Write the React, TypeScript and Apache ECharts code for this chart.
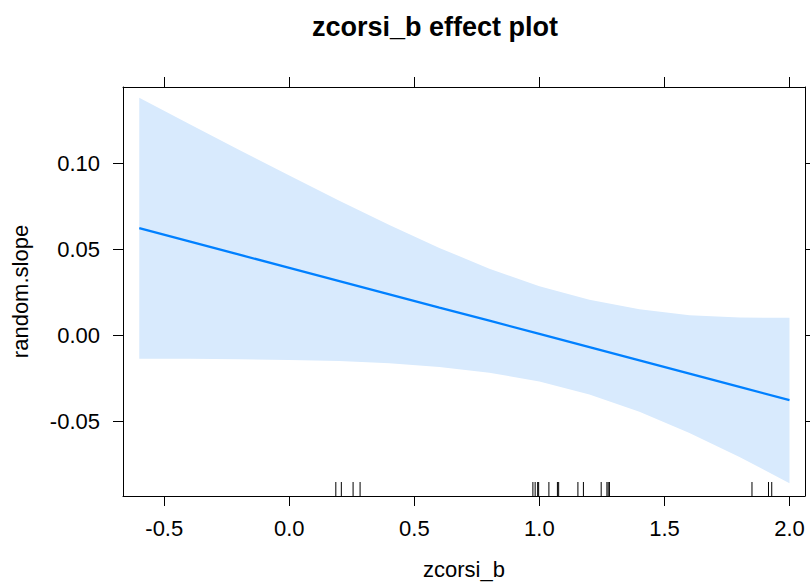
import React, { useEffect, useRef } from "react";
import * as echarts from "echarts";

const titleText = "zcorsi_b effect plot";
const xName = "zcorsi_b";
const yName = "random.slope";

// grid of x values where the fit and its confidence band were read
const bandX = [-0.6, -0.4, -0.2, 0, 0.2, 0.4, 0.6, 0.8, 1.0, 1.2, 1.4, 1.6, 1.8, 2.0];
const fitY = [0.0625, 0.0548, 0.0471, 0.0394, 0.0317, 0.024, 0.0163, 0.0087, 0.001, -0.0067, -0.0144, -0.0221, -0.0298, -0.0375];
const upperY = [0.1382, 0.123, 0.1079, 0.093, 0.0784, 0.0643, 0.051, 0.0389, 0.0287, 0.0208, 0.0153, 0.0119, 0.0105, 0.0104];
const lowerY = [-0.0134, -0.0135, -0.0137, -0.0141, -0.0148, -0.0161, -0.0183, -0.0216, -0.0266, -0.0342, -0.0443, -0.0566, -0.0705, -0.0858];

// rug (observed x values)
const rugX = [0.186, 0.208, 0.255, 0.283, 0.974, 0.983, 0.993, 0.997, 1.038, 1.072, 1.077, 1.154, 1.176, 1.247, 1.27, 1.275, 1.28, 1.85, 1.916, 1.929];

const xTicks = [-0.5, 0, 0.5, 1.0, 1.5, 2.0];
const yTicks = [-0.05, 0, 0.05, 0.1];
const xRange = [-0.665, 2.062];
const yRange = [-0.0932, 0.1445];

const FONT = "'Liberation Sans', Arial, Helvetica, sans-serif";
const LINE_COLOR = "#0080ff";
const BAND_COLOR = "#d8eafd";

export default function App() {
  const ref = useRef<HTMLDivElement>(null);

  useEffect(() => {
    if (!ref.current) return;
    const chart = echarts.init(ref.current, undefined, { renderer: "svg" });

    const axisLineStyle = { show: true, onZero: false, lineStyle: { color: "#000", width: 1 } };
    const tickStyle = (vals: number[]) => ({
      show: true,
      inside: false,
      length: 10,
      customValues: vals,
      lineStyle: { color: "#000", width: 1 },
    });

    const option: any = {
      animation: false,
      backgroundColor: "#fff",
      title: {
        text: titleText,
        left: 430,
        top: 8,
        textAlign: "center",
        textStyle: { fontFamily: FONT, fontSize: 27, fontWeight: "bold", color: "#000" },
      },
      grid: { left: 123, top: 87, width: 682, height: 412, containLabel: false },
      xAxis: [
        {
          type: "value",
          position: "bottom",
          min: xRange[0],
          max: xRange[1],
          name: xName,
          nameLocation: "middle",
          nameGap: 62,
          nameTextStyle: { fontFamily: FONT, fontSize: 22, color: "#000" },
          axisLine: axisLineStyle,
          axisTick: tickStyle(xTicks),
          axisLabel: {
            show: true,
            customValues: xTicks,
            margin: 21,
            fontFamily: FONT,
            fontSize: 22,
            color: "#000",
            formatter: (v: number) => v.toFixed(1),
          },
          splitLine: { show: false },
        },
        {
          type: "value",
          position: "top",
          min: xRange[0],
          max: xRange[1],
          axisLine: axisLineStyle,
          axisTick: tickStyle(xTicks),
          axisLabel: { show: false },
          splitLine: { show: false },
        },
      ],
      yAxis: [
        {
          type: "value",
          position: "left",
          min: yRange[0],
          max: yRange[1],
          name: yName,
          nameLocation: "middle",
          nameGap: 92,
          nameRotate: 90,
          nameTextStyle: { fontFamily: FONT, fontSize: 22, color: "#000" },
          axisLine: axisLineStyle,
          axisTick: tickStyle(yTicks),
          axisLabel: {
            show: true,
            customValues: yTicks,
            margin: 23,
            fontFamily: FONT,
            fontSize: 22,
            color: "#000",
            formatter: (v: number) => v.toFixed(2),
          },
          splitLine: { show: false },
        },
        {
          type: "value",
          position: "right",
          min: yRange[0],
          max: yRange[1],
          axisLine: axisLineStyle,
          axisTick: tickStyle(yTicks),
          axisLabel: { show: false },
          splitLine: { show: false },
        },
      ],
      series: [
        {
          type: "custom",
          name: "band",
          xAxisIndex: 0,
          yAxisIndex: 0,
          z: 1,
          silent: true,
          data: bandX.map((x, i) => [x, upperY[i]]),
          renderItem: (params: any, api: any) => {
            if (params.dataIndex !== 0) return null;
            const pts: number[][] = [];
            for (let i = 0; i < bandX.length; i++) pts.push(api.coord([bandX[i], upperY[i]]));
            for (let i = bandX.length - 1; i >= 0; i--) pts.push(api.coord([bandX[i], lowerY[i]]));
            return {
              type: "polygon",
              shape: { points: pts, smooth: 0 },
              style: { fill: BAND_COLOR, stroke: "none" },
            };
          },
        },
        {
          type: "line",
          name: "fit",
          xAxisIndex: 0,
          yAxisIndex: 0,
          z: 3,
          showSymbol: false,
          silent: true,
          data: bandX.map((x, i) => [x, fitY[i]]),
          lineStyle: { color: LINE_COLOR, width: 2.2 },
        },
        {
          type: "custom",
          name: "rug",
          xAxisIndex: 0,
          yAxisIndex: 0,
          z: 2,
          silent: true,
          data: rugX.map((x) => [x, yRange[0]]),
          renderItem: (params: any, api: any) => {
            const p = api.coord([api.value(0), yRange[0]]);
            return {
              type: "line",
              shape: { x1: p[0], y1: p[1], x2: p[0], y2: p[1] - 14 },
              style: { stroke: "#000", lineWidth: 1 },
            };
          },
        },
      ],
    };

    chart.setOption(option);
    return () => chart.dispose();
  }, []);

  return (
    <div
      ref={ref}
      style={{ position: "fixed", left: 0, top: 0, width: 810, height: 585, background: "#fff" }}
    />
  );
}
